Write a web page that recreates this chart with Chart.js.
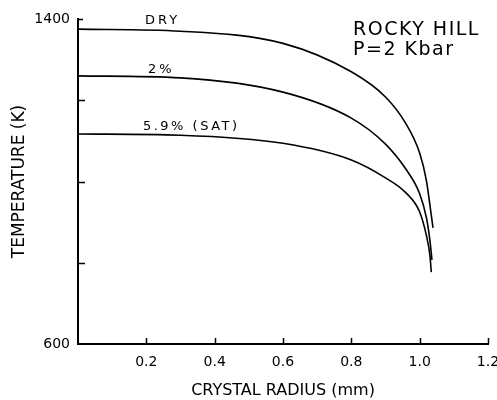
<!DOCTYPE html>
<html>
<head>
<meta charset="utf-8">
<script src="https://cdn.jsdelivr.net/npm/chart.js@4/dist/chart.umd.min.js"></script>
<style>
  html, body { margin: 0; padding: 0; background: #fff; }
  #wrap { width: 497px; height: 400px; }
</style>
</head>
<body>
<div id="wrap"><canvas id="chart" width="497" height="400"></canvas></div>
<script>
// --- Data ---
const radiusDry = [0, 0.3, 0.6, 0.8, 0.9, 0.96, 1.0, 1.02, 1.03, 1.039];
const tempDry   = [1375, 1370, 1340, 1270, 1208, 1142, 1070, 1001, 942, 886];

const radius2 = [0, 0.3, 0.6, 0.8, 0.9, 0.96, 1.0, 1.02, 1.03, 1.036];
const temp2   = [1260, 1255, 1220, 1156, 1092, 1030, 970, 910, 855, 807];

const radiusSat = [0, 0.3, 0.6, 0.8, 0.9, 0.96, 1.0, 1.02, 1.03, 1.034];
const tempSat   = [1117, 1114, 1094, 1053, 1009, 972, 925, 866, 818, 777];

const xTicks = [0.2, 0.4, 0.6, 0.8, 1.0, 1.2];
const yTickLabels = { 1400: '1400', 600: '600' };

const curveLabels = [
  { text: 'DRY', x: 0.196, y: 1388, spacing: 3 },
  { text: '2%', x: 0.205, y: 1267, spacing: 3 },
  { text: '5.9% (SAT)', x: 0.19, y: 1127, spacing: 2.5 }
];

const FONT = '"DejaVu Sans", sans-serif';

const toPoints = (xs, ys) => xs.map((x, i) => ({ x: x, y: ys[i] }));

// inward ticks, curve labels and the panel note
const extras = {
  id: 'extras',
  afterDraw(chart) {
    const ctx = chart.ctx;
    const xs = chart.scales.x;
    const ys = chart.scales.y;
    const area = chart.chartArea;
    ctx.save();
    ctx.strokeStyle = '#000';
    ctx.lineWidth = 1.5;
    ctx.beginPath();
    xs.ticks.forEach(t => {
      if (t.value <= xs.min) return;
      const px = Math.round(xs.getPixelForValue(t.value)) + 0.5;
      ctx.moveTo(px, area.bottom);
      ctx.lineTo(px, area.bottom - 6);
    });
    ys.ticks.forEach(t => {
      if (t.value <= ys.min) return;
      const py = Math.round(ys.getPixelForValue(t.value)) + 0.5;
      ctx.moveTo(area.left, py);
      ctx.lineTo(area.left + (t.value >= ys.max ? 5 : 7), py);
    });
    ctx.stroke();

    ctx.fillStyle = '#000';
    ctx.textAlign = 'left';
    ctx.textBaseline = 'alphabetic';
    ctx.font = '13px ' + FONT;
    curveLabels.forEach(l => {
      ctx.letterSpacing = l.spacing + 'px';
      ctx.fillText(l.text, xs.getPixelForValue(l.x), ys.getPixelForValue(l.y));
    });

    ctx.font = '19px ' + FONT;
    ctx.letterSpacing = '1.5px';
    ctx.fillText('ROCKY HILL', 353, 35);
    ctx.fillText('P=2 Kbar', 353, 55);
    ctx.restore();
  }
};

const lineStyle = {
  borderColor: '#000',
  borderWidth: 1.6,
  pointRadius: 0,
  cubicInterpolationMode: 'monotone',
  fill: false
};

new Chart(document.getElementById('chart'), {
  type: 'line',
  data: {
    datasets: [
      Object.assign({ label: 'DRY', data: toPoints(radiusDry, tempDry) }, lineStyle),
      Object.assign({ label: '2%', data: toPoints(radius2, temp2) }, lineStyle),
      Object.assign({ label: '5.9% (SAT)', data: toPoints(radiusSat, tempSat) }, lineStyle)
    ]
  },
  options: {
    responsive: false,
    animation: false,
    layout: { padding: { top: 19, right: 9, left: 1, bottom: 0 } },
    plugins: { legend: { display: false }, tooltip: { enabled: false } },
    scales: {
      x: {
        type: 'linear',
        min: 0,
        max: 1.2,
        afterBuildTicks: s => { s.ticks = xTicks.map(v => ({ value: v })); },
        afterFit: s => { s.height = 56; s.paddingLeft = 0; s.paddingRight = 0; },
        grid: { display: true, drawOnChartArea: false, drawTicks: false },
        border: { display: true, color: '#000', width: 2 },
        ticks: {
          color: '#000',
          padding: 10,
          font: { family: FONT, size: 14 },
          callback: v => v.toFixed(1)
        },
        title: {
          display: true,
          text: 'CRYSTAL RADIUS (mm)',
          color: '#000',
          font: { family: FONT, size: 16 },
          padding: { top: 0, bottom: 0 }
        }
      },
      y: {
        type: 'linear',
        min: 600,
        max: 1400,
        ticks: {
          stepSize: 200,
          color: '#000',
          padding: 8,
          font: { family: FONT, size: 14 },
          callback: v => yTickLabels[v] || ''
        },
        afterFit: s => { s.width = 77; },
        grid: { display: true, drawOnChartArea: false, drawTicks: false },
        border: { display: true, color: '#000', width: 2 },
        title: {
          display: true,
          text: 'TEMPERATURE (K)',
          color: '#000',
          font: { family: FONT, size: 17 },
          padding: { top: 8, bottom: 0 }
        }
      }
    }
  },
  plugins: [extras]
});
</script>
</body>
</html>
